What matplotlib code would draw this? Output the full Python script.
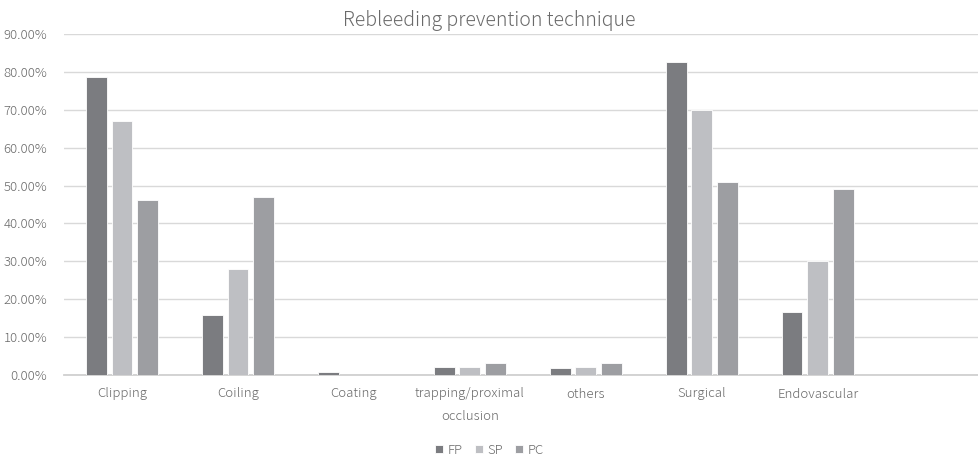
import matplotlib.pyplot as plt
import numpy as np
from matplotlib.ticker import FuncFormatter

categories = ['Clipping', 'Coiling', 'Coating', 'trapping/proximal\nocclusion',
              'others', 'Surgical', 'Endovascular']
fp = [78.6, 15.8, 0.8, 2.1, 1.9, 82.6, 16.6]
sp = [67.0, 28.0, 0.0, 2.2, 2.2, 70.0, 30.0]
pc = [46.2, 47.0, 0.0, 3.2, 3.2, 51.0, 49.0]

series = [('FP', fp, '#7b7c80'), ('SP', sp, '#bebfc3'), ('PC', pc, '#9d9ea2')]

plt.rcParams['font.family'] = ['Noto Sans CJK JP', 'DejaVu Sans']
plt.rcParams['font.weight'] = 'light'
text_color = '#6a6a6a'

fig = plt.figure(figsize=(9.79, 4.55), dpi=100)
ax = fig.add_axes([64 / 979, 80 / 455, 915 / 979, 341 / 455])

x = np.arange(len(categories))
width = 0.18
step = 0.222
for i, (name, vals, col) in enumerate(series):
    ax.bar(x + (i - 1) * step, vals, width, color=col, label=name,
           edgecolor='white', linewidth=0.6, zorder=3)

ax.set_ylim(0, 90)
ax.set_xlim(-0.5, 7.39)
ax.set_yticks(np.arange(0, 91, 10))
ax.yaxis.set_major_formatter(FuncFormatter(lambda v, p: f'{v:.2f}%'))
ax.grid(axis='y', color='#d9d9d9', linewidth=1, zorder=0)
ax.set_xticks(x)
ax.set_xticklabels(categories, linespacing=1.9)

for s in ['top', 'right', 'left']:
    ax.spines[s].set_visible(False)
ax.spines['bottom'].set_color('#d0d0d0')
ax.spines['bottom'].set_linewidth(1.3)
ax.tick_params(axis='both', length=0, labelsize=9.5, colors=text_color)
ax.tick_params(axis='x', pad=9)
ax.tick_params(axis='y', pad=12)

fig.text(0.5, 0.954, 'Rebleeding prevention technique', ha='center', va='center',
         fontsize=14, color=text_color)

leg = fig.legend(loc='center', ncol=3, frameon=False, fontsize=9.5,
                 handlelength=0.6, handleheight=0.6, handletextpad=0.35,
                 columnspacing=0.9)
for t in leg.get_texts():
    t.set_color(text_color)
leg.set_bbox_to_anchor((0.5, 0.01), transform=fig.transFigure)

fig.savefig('out.png', dpi=100, facecolor='white')
